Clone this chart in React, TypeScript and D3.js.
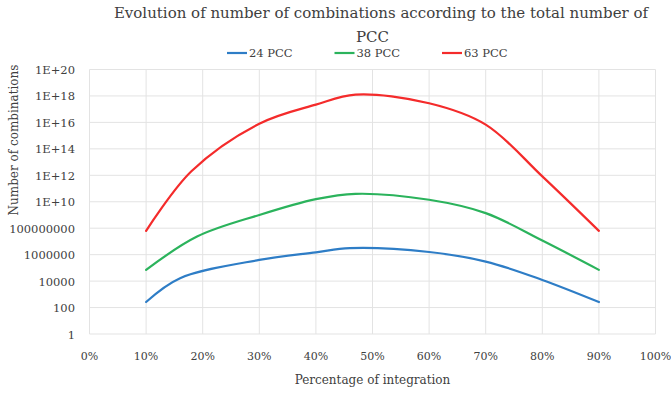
import React from 'react';
import * as d3 from 'd3';

// percentage of integration (x) where points were read, one list per series
const pct24 = [10, 16, 30, 40, 46, 60, 70, 80, 90];
const pct38 = [10, 19, 30, 40, 47, 60, 70, 80, 90];
const pct63 = [10, 18, 30, 40, 47, 60, 70, 80, 90];

const pcc24 = [263, 1.66e4, 3.98e5, 1.48e6, 3.09e6, 1.58e6, 3.0e5, 1.23e4, 263];
const pcc38 = [7.08e4, 2.34e7, 1.0e9, 1.58e10, 3.98e10, 1.41e10, 1.38e9, 1.17e7, 7.08e4];
const pcc63 = [6.3e7, 2.0e12, 7.9e15, 2.2e17, 1.26e18, 2.8e17, 6.8e15, 8.3e11, 6.3e7];

const seriesNames = ['24 PCC', '38 PCC', '63 PCC'];
const seriesColors = ['#2e7dc6', '#2bb35c', '#f42b2b'];

const xTicks = [0, 10, 20, 30, 40, 50, 60, 70, 80, 90, 100];
const yTicks = [1, 1e2, 1e4, 1e6, 1e8, 1e10, 1e12, 1e14, 1e16, 1e18, 1e20];
const yTickLabels = ['1', '100', '10000', '1000000', '100000000', '1E+10', '1E+12', '1E+14', '1E+16', '1E+18', '1E+20'];

const W = 671;
const H = 396;
const margin = { top: 69.5, right: 15.5, bottom: 62, left: 89.5 };
const font = 'DejaVu Serif';
const txt = '#404040';

const App: React.FC = () => {
  const x = d3.scaleLinear().domain([0, 100]).range([margin.left, W - margin.right]);
  const y = d3.scaleLog().domain([1, 1e20]).range([H - margin.bottom, margin.top]);

  const line = d3.line<[number, number]>()
    .x(d => x(d[0]))
    .y(d => y(d[1]))
    .curve(d3.curveCatmullRom.alpha(0.5));

  const allSeries = [
    { xs: pct24, vals: pcc24 },
    { xs: pct38, vals: pcc38 },
    { xs: pct63, vals: pcc63 },
  ];
  const cx = (margin.left + W - margin.right) / 2;

  return (
    <svg width={W} height={H} style={{ position: 'absolute', left: 0, top: 0, background: '#fff' }}>
      {/* title */}
      <text x={381} y={18} textAnchor="middle" fontFamily={font} fontSize={15} fill={txt}>
        Evolution of number of combinations according to the total number of
      </text>
      <text x={cx} y={42} textAnchor="middle" fontFamily={font} fontSize={15} fill={txt}>PCC</text>

      {/* legend */}
      {seriesNames.map((name, i) => {
        const lx = 227 + i * 107.5;
        return (
          <g key={name}>
            <line x1={lx} x2={lx + 20} y1={53} y2={53} stroke={seriesColors[i]} strokeWidth={2.2} />
            <text x={lx + 22} y={57} fontFamily={font} fontSize={11.5} fill={txt}>{name}</text>
          </g>
        );
      })}

      {/* grid */}
      {yTicks.map(t => (
        <line key={'gy' + t} x1={margin.left} x2={W - margin.right} y1={y(t)} y2={y(t)} stroke="#e3e3e3" strokeWidth={1} />
      ))}
      {xTicks.map(t => (
        <line key={'gx' + t} x1={x(t)} x2={x(t)} y1={margin.top} y2={H - margin.bottom} stroke="#e3e3e3" strokeWidth={1} />
      ))}

      {/* y tick labels */}
      {yTicks.map((t, i) => (
        <text key={'ty' + t} x={75} y={y(t) + 4.5} textAnchor="end" fontFamily={font} fontSize={11.5} fill={txt}>{yTickLabels[i]}</text>
      ))}

      {/* x tick labels */}
      {xTicks.map(t => (
        <text key={'tx' + t} x={x(t)} y={360} textAnchor="middle" fontFamily={font} fontSize={11} fill={txt}>{t + '%'}</text>
      ))}

      {/* axis titles */}
      <text x={cx} y={384} textAnchor="middle" fontFamily={font} fontSize={12} fill={txt}>Percentage of integration</text>
      <text transform="translate(18,140) rotate(-90)" textAnchor="middle" fontFamily={font} fontSize={12} fill={txt}>Number of combinations</text>

      {/* series */}
      {allSeries.map((s, i) => (
        <path
          key={seriesNames[i]}
          d={line(s.xs.map((p, j) => [p, s.vals[j]] as [number, number])) || ''}
          fill="none"
          stroke={seriesColors[i]}
          strokeWidth={2.2}
          strokeLinecap="round"
          strokeLinejoin="round"
        />
      ))}
    </svg>
  );
};

export default App;
